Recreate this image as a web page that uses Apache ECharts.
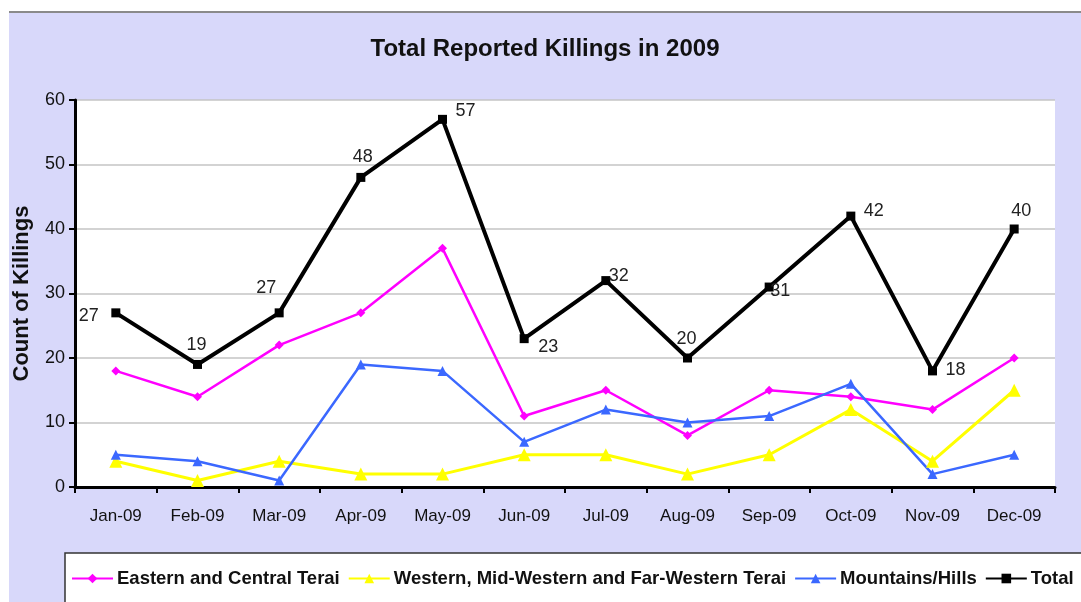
<!DOCTYPE html>
<html>
<head>
    <meta charset="utf-8">
    <script src="https://cdn.jsdelivr.net/npm/echarts@6/dist/echarts.min.js"></script>
    <title>Total Reported Killings in 2009</title>
    <style>
        html, body { margin: 0; padding: 0; background: #fff; }
        #main {
            position: absolute; left: 9px; top: 11px;
            width: 1072px; height: 589px;
            background: #D8D8FA;
            border-top: 2px solid #8a8a8a;
        }
    </style>
</head>
<body>
    <div id="main"></div>
    <script type="text/javascript">
    var months = ['Jan-09','Feb-09','Mar-09','Apr-09','May-09','Jun-09','Jul-09','Aug-09','Sep-09','Oct-09','Nov-09','Dec-09'];
    var eastCentral = [18, 14, 22, 27, 37, 11, 15, 8, 15, 14, 12, 20];
    var westFar = [4, 1, 4, 2, 2, 5, 5, 2, 5, 12, 4, 15];
    var mountains = [5, 4, 1, 19, 18, 7, 12, 10, 11, 16, 2, 5];
    var total = [27, 19, 27, 48, 57, 23, 32, 20, 31, 42, 18, 40];

    var font = "'Liberation Sans', Arial, sans-serif";

    // where each total label sits relative to its point
    var labelOffsets = [[-27, 3], [-1, -19], [-13, -25], [2, -20], [23, -8], [24, 8],
                        [13, -5], [-1, -19], [11, 4], [23, -5], [23, -1], [7, -18]];

    var myChart = echarts.init(document.getElementById('main'));

    var totalData = total.map(function (v, i) {
        return { value: v, label: { offset: labelOffsets[i] } };
    });

    var option = {
        animation: false,
        title: {
            text: 'Total Reported Killings in 2009',
            left: 'center',
            top: 19,
            textStyle: { fontFamily: font, fontSize: 24, fontWeight: 'bold', color: '#111' }
        },
        graphic: [{
            type: 'rect',
            shape: { x: 56, y: 540, width: 1100, height: 60 },
            style: { fill: '#fff', stroke: '#333', lineWidth: 1.5 },
            z: 0
        }],
        legend: {
            left: 62,
            top: 556,
            width: 1200,
            padding: 0,
            itemWidth: 41,
            itemHeight: 12,
            itemGap: 8,
            textStyle: { fontFamily: font, fontSize: 18.5, fontWeight: 'bold', color: '#111', padding: [0, 0, 0, -1] }
        },
        grid: {
            left: 66, right: 26, top: 87, bottom: 115,
            outerBoundsMode: 'none',
            show: true, backgroundColor: '#fff', borderWidth: 0
        },
        xAxis: {
            type: 'category',
            data: months,
            boundaryGap: true,
            axisLine: { lineStyle: { color: '#000', width: 3 } },
            axisTick: { show: true, length: 6, lineStyle: { color: '#000', width: 2 } },
            axisLabel: { margin: 21, fontFamily: font, fontSize: 17, color: '#111' }
        },
        yAxis: {
            type: 'value',
            min: 0, max: 60, interval: 10,
            name: 'Count of Killings',
            nameLocation: 'middle',
            nameGap: 42,
            nameTextStyle: { fontFamily: font, fontSize: 22, fontWeight: 'bold', color: '#111' },
            axisLine: { show: true, lineStyle: { color: '#000', width: 3 } },
            axisTick: { show: true, length: 6, lineStyle: { color: '#000', width: 2 } },
            axisLabel: { margin: 10, fontFamily: font, fontSize: 18, color: '#111' },
            splitLine: { lineStyle: { color: '#c4c4c4', width: 1.5 } }
        },
        series: [
            {
                name: 'Eastern and Central Terai',
                type: 'line',
                data: eastCentral,
                symbol: 'diamond', symbolSize: 9,
                itemStyle: { color: '#FF00FF' },
                lineStyle: { color: '#FF00FF', width: 2.5 }
            },
            {
                name: 'Western, Mid-Western and Far-Western Terai',
                type: 'line',
                data: westFar,
                symbol: 'triangle', symbolSize: 13,
                itemStyle: { color: '#FFFF00' },
                lineStyle: { color: '#FFFF00', width: 3 }
            },
            {
                name: 'Mountains/Hills',
                type: 'line',
                data: mountains,
                symbol: 'triangle', symbolSize: 10,
                itemStyle: { color: '#3B68FF' },
                lineStyle: { color: '#3B68FF', width: 2.5 }
            },
            {
                name: 'Total',
                type: 'line',
                data: totalData,
                symbol: 'rect', symbolSize: 9,
                itemStyle: { color: '#000' },
                lineStyle: { color: '#000', width: 4 },
                label: {
                    show: true, position: 'inside',
                    fontFamily: font, fontSize: 18, color: '#222'
                }
            }
        ]
    };
    myChart.setOption(option);
    </script>
</body>
</html>
